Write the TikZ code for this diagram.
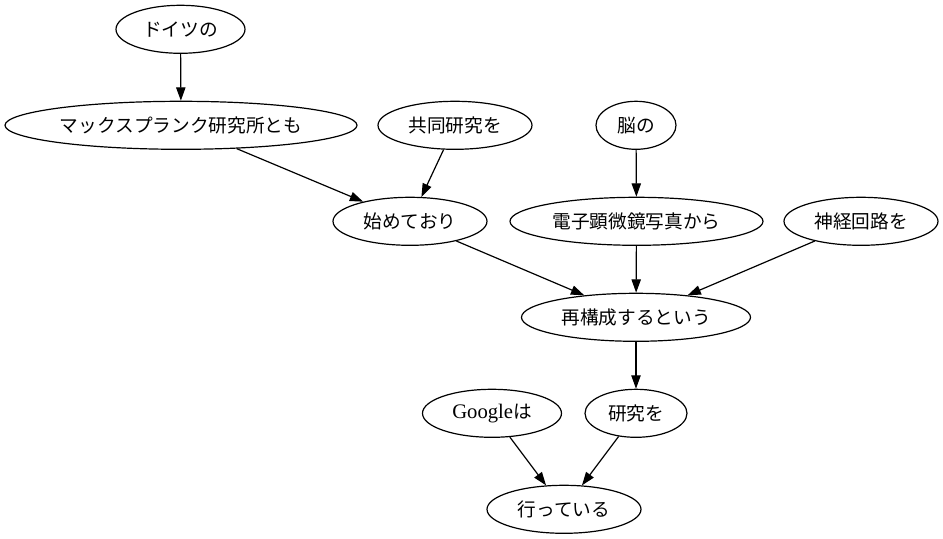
\documentclass[tikz,border=0pt]{standalone}
\usepackage{fontspec}
\newfontfamily\jp{Noto Sans CJK JP}
\newfontfamily\lat{Liberation Serif}
\usetikzlibrary{shapes.geometric,arrows.meta}
\begin{document}
\begin{tikzpicture}[x=0.75pt,y=-0.75pt,
  gv/.style={ellipse,draw,line width=0.9pt,inner sep=0pt,minimum height=36pt,
    font=\jp\fontsize{14}{16}\selectfont},
  link/.style={line width=0.9pt,-{Triangle[length=10pt,width=7pt]}}]
\useasboundingbox (0,0) rectangle (943,539);
% nodes, one row per rank
\node[gv,minimum width=96.75pt]  (doitsu)   at (180.5,29.3) {ドイツの};
\node[gv,minimum width=264pt]    (mpk)      at (181,125.3)  {マックスプランク研究所とも};
\node[gv,minimum width=115.5pt]  (kyodo)    at (455,125.3)  {共同研究を};
\node[gv,minimum width=60pt]     (nou)      at (636,125.3)  {脳の};
\node[gv,minimum width=115.5pt]  (hajime)   at (410,221.3)  {始めており};
\node[gv,minimum width=189.75pt] (denshi)   at (636.5,221.3){電子顕微鏡写真から};
\node[gv,minimum width=115.5pt]  (shinkei)  at (861,221.3)  {神経回路を};
\node[gv,minimum width=171.75pt] (saikosei) at (636,317.3)  {再構成するという};
\node[gv,minimum width=104.25pt] (google)   at (492,413.3)  {{\lat\fontsize{15.5}{17}\selectfont Google}は};
\node[gv,minimum width=76.5pt]   (kenkyu)   at (636,413.3)  {研究を};
\node[gv,minimum width=115.5pt]  (okonau)   at (564,509.3)  {行っている};
% dependency arrows
\draw[link] (doitsu) -- (mpk);
\draw[link] (mpk) -- (hajime);
\draw[link] (kyodo) -- (hajime);
\draw[link] (nou) -- (denshi);
\draw[link] (hajime) -- (saikosei);
\draw[link] (denshi) -- (saikosei);
\draw[link] (shinkei) -- (saikosei);
\draw[link] (saikosei) -- (kenkyu);
\draw[link] (google) -- (okonau);
\draw[link] (kenkyu) -- (okonau);
\end{tikzpicture}
\end{document}
